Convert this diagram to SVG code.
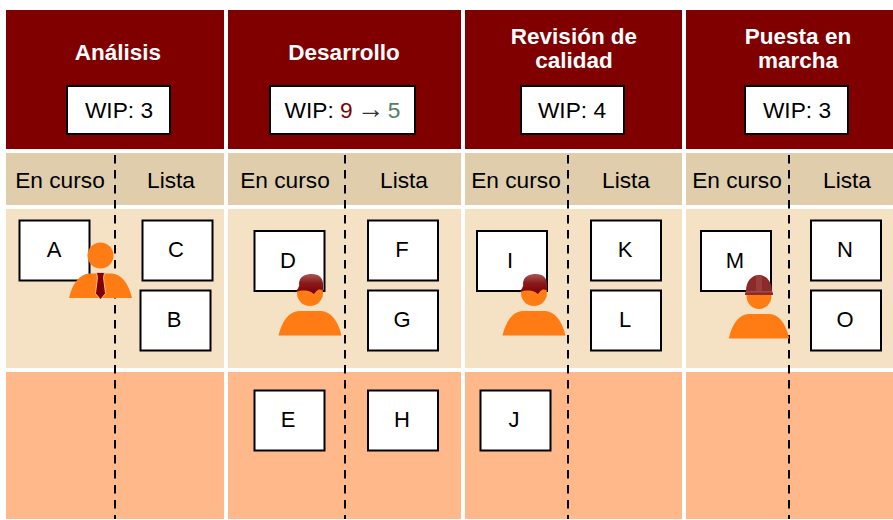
<svg xmlns="http://www.w3.org/2000/svg" width="893" height="520" viewBox="0 0 893 520">
<defs>
<linearGradient id="cap" x1="0" y1="0" x2="0" y2="1"><stop offset="0" stop-color="#a85555"/><stop offset="0.45" stop-color="#8c1a1a"/><stop offset="1" stop-color="#7a0000"/></linearGradient>
<g id="body"><circle cx="0" cy="0" r="13" fill="#ff7b13"/><path d="M-31.500 42.500 C-28 27 -20 18 -11 18 L11 18 C20 18 28 27 31.500 42.500 Z" fill="#ff7b13"/></g>
<g id="capA"><path d="M-15 -0.500 C-12 -4 -10 -6 -11 -9 C-11 -17 -4 -19 2 -19 C9 -19 13 -15 13 -9 L13 -3 C10 -4 8 -4 6 -1.500 L4 1 L1 -1 C-4 -3 -10 -3 -15 -0.500 Z" fill="url(#cap)"/></g>
<g id="capB"><path d="M-13 -5 C-13 -15 -7 -21 0 -21 C7 -21 13 -15 13 -5 L14 -2.500 L14 -1 L-14 -1 L-14 -2.500 Z" fill="#8c2a2a"/><rect x="-13" y="-5" width="26" height="1.500" fill="#a04a4a"/><rect x="-3" y="-20" width="6" height="15" fill="#a04a4a" opacity=".6"/></g>
</defs>
<style>
.head{fill:#800000}.sub{fill:#dfcdac}.mid{fill:#f5e2c4}.low{fill:#ffb889}
.card{fill:#fff;stroke:#000;stroke-width:2}
text{font-family:"Liberation Sans",Arial,sans-serif;fill:#000;text-anchor:middle}
.title{font-size:22.500px;font-weight:bold;fill:#fff}
.wip{font-size:22.700px}.lab{font-size:22.700px}.cl{font-size:22px}
.dash{stroke:#000;stroke-width:2;stroke-dasharray:8.500 6.500;fill:none}
</style>
<rect width="893" height="520" fill="#fff"/>
<g id="bands">
<rect class="head" x="6" y="10" width="218" height="139"/><rect class="head" x="228" y="10" width="233" height="139"/><rect class="head" x="465" y="10" width="217" height="139"/><rect class="head" x="686" y="10" width="207" height="139"/>
<rect class="sub" x="6" y="153" width="218" height="52"/><rect class="sub" x="228" y="153" width="233" height="52"/><rect class="sub" x="465" y="153" width="217" height="52"/><rect class="sub" x="686" y="153" width="207" height="52"/>
<rect class="mid" x="6" y="209" width="218" height="159"/><rect class="mid" x="228" y="209" width="233" height="159"/><rect class="mid" x="465" y="209" width="217" height="159"/><rect class="mid" x="686" y="209" width="207" height="159"/>
<rect class="low" x="6" y="372" width="218" height="147"/><rect class="low" x="228" y="372" width="233" height="147"/><rect class="low" x="465" y="372" width="217" height="147"/><rect class="low" x="686" y="372" width="207" height="147"/>
</g>
<g id="connectors">
<path class="dash" d="M115 155V519M345 155V519M568 155V519M789 155V519"/>
</g>
<g id="col-analisis">
<text class="title" x="118" y="60">Análisis</text>
<rect class="card" x="67" y="86" width="103" height="48"/><text class="wip" x="119" y="118">WIP: 3</text>
<text class="lab" x="60" y="188">En curso</text><text class="lab" x="171" y="188">Lista</text>
</g>
<g id="col-desarrollo">
<text class="title" x="344" y="60">Desarrollo</text>
<rect class="card" x="270" y="86" width="145" height="48"/>
<text class="wip" x="342.500" y="118">WIP: <tspan fill="#800000">9</tspan> <tspan fill="#333" font-family="Liberation Serif" font-size="27.500" dx="-2">→</tspan> <tspan fill="#4f7f5f" dx="-3">5</tspan></text>
<text class="lab" x="285" y="188">En curso</text><text class="lab" x="404" y="188">Lista</text>
</g>
<g id="col-revision">
<text class="title" x="574" y="44">Revisión de</text><text class="title" x="574" y="68">calidad</text>
<rect class="card" x="521" y="86" width="103" height="48"/><text class="wip" x="572" y="118">WIP: 4</text>
<text class="lab" x="516" y="188">En curso</text><text class="lab" x="626" y="188">Lista</text>
</g>
<g id="col-puesta">
<text class="title" x="798" y="44">Puesta en</text><text class="title" x="798" y="68">marcha</text>
<rect class="card" x="745" y="86" width="103" height="48"/><text class="wip" x="797" y="118">WIP: 3</text>
<text class="lab" x="737" y="188">En curso</text><text class="lab" x="847" y="188">Lista</text>
</g>
<g id="card-A"><rect class="card" x="19.500" y="220.500" width="70" height="60"/><text class="cl" x="54" y="257">A</text></g>
<g id="card-C"><rect class="card" x="142.500" y="220.500" width="70" height="60"/><text class="cl" x="176" y="257">C</text></g>
<g id="card-B"><rect class="card" x="140.500" y="290.500" width="70" height="60"/><text class="cl" x="174" y="327">B</text></g>
<g id="card-D"><rect class="card" x="254.500" y="231" width="70" height="60"/><text class="cl" x="288" y="268">D</text></g>
<g id="card-F"><rect class="card" x="368" y="220.500" width="70" height="60"/><text class="cl" x="402" y="257">F</text></g>
<g id="card-G"><rect class="card" x="368" y="290.500" width="70" height="60"/><text class="cl" x="402" y="327">G</text></g>
<g id="card-E"><rect class="card" x="254.500" y="390.500" width="70" height="60"/><text class="cl" x="288" y="427">E</text></g>
<g id="card-H"><rect class="card" x="368" y="390.500" width="70" height="60"/><text class="cl" x="402" y="427">H</text></g>
<g id="card-I"><rect class="card" x="477" y="231" width="70" height="60"/><text class="cl" x="510" y="268">I</text></g>
<g id="card-K"><rect class="card" x="591" y="220.500" width="70" height="60"/><text class="cl" x="625" y="257">K</text></g>
<g id="card-L"><rect class="card" x="591" y="290.500" width="70" height="60"/><text class="cl" x="625" y="327">L</text></g>
<g id="card-J"><rect class="card" x="480.500" y="390.500" width="70" height="60"/><text class="cl" x="514" y="427">J</text></g>
<g id="card-M"><rect class="card" x="701" y="231" width="70" height="60"/><text class="cl" x="735" y="268">M</text></g>
<g id="card-N"><rect class="card" x="811" y="220.500" width="70" height="60"/><text class="cl" x="845" y="257">N</text></g>
<g id="card-O"><rect class="card" x="811" y="290.500" width="70" height="60"/><text class="cl" x="845" y="327">O</text></g>
<g id="person-analisis" transform="translate(100.500 255.500)"><use href="#body"/><path d="M-4 17 L4 17 L3 22 L5 38 L0 44 L-5 38 L-3 22 Z" fill="#800000" stroke="#ffd9b0" stroke-width=".8"/></g>
<g id="person-desarrollo" transform="translate(310 293)"><use href="#body"/><use href="#capA"/></g>
<g id="person-revision" transform="translate(534 293)"><use href="#body"/><use href="#capA"/></g>
<g id="person-puesta" transform="translate(759 296)"><use href="#body" transform="scale(.96 1)"/><use href="#capB"/></g>
</svg>
